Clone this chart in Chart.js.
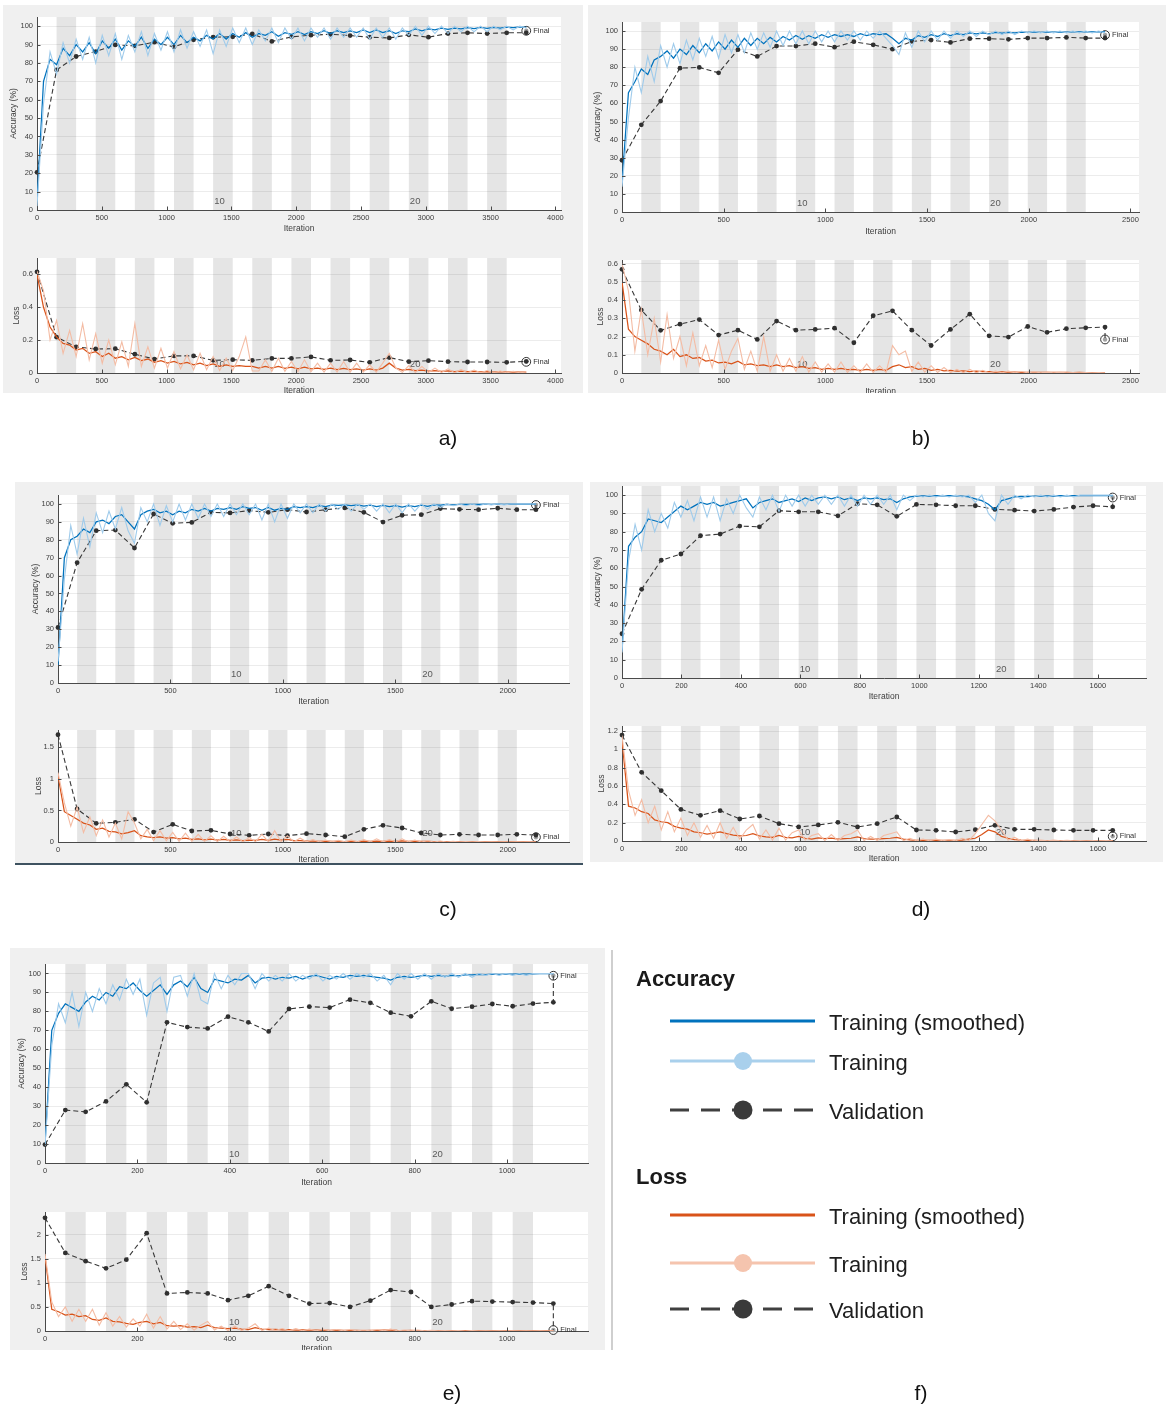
<!DOCTYPE html>
<html>
<head>
<meta charset="utf-8">
<title>Training progress</title>
<script src="https://cdn.jsdelivr.net/npm/chart.js@4.4.1/dist/chart.umd.min.js"></script>
<style>
  html, body { margin: 0; padding: 0; background: #fff; }
  body { width: 1168px; height: 1411px; position: relative; overflow: hidden;
         font-family: "Liberation Sans", Arial, sans-serif; }
  .panel { position: absolute; background: #f0f0f0; overflow: hidden; }
  .panel canvas { position: absolute; }
  #overlay { position: absolute; left: 0; top: 0; pointer-events: none; }
</style>
</head>
<body>
<svg id="overlay" width="1168" height="1411"></svg>
<script>
// ---------------------------------------------------------------------------
// Run data: 25 epochs per run, training sampled evenly over all iterations,
// validation once per epoch plus the final evaluation.
// ---------------------------------------------------------------------------
const panelIds = ['a', 'b', 'c', 'd', 'e'];
const EPOCHS = 25;
const itersPerEpoch = [151, 95, 85, 66, 44];
const epochMarks = [10, 20];

const iterAxisMax = [4043, 2542, 2272, 1762, 1175];
const iterTicks = [
  [0, 500, 1000, 1500, 2000, 2500, 3000, 3500, 4000],
  [0, 500, 1000, 1500, 2000, 2500],
  [0, 500, 1000, 1500, 2000],
  [0, 200, 400, 600, 800, 1000, 1200, 1400, 1600],
  [0, 200, 400, 600, 800, 1000]
];
const accAxisMax = [105, 105, 105, 105, 105];
const accTicks = [0, 10, 20, 30, 40, 50, 60, 70, 80, 90, 100];
const lossAxisMax = [0.70, 0.62, 1.775, 1.255, 2.47];
const lossTicks = [
  [0, 0.2, 0.4, 0.6],
  [0, 0.1, 0.2, 0.3, 0.4, 0.5, 0.6],
  [0, 0.5, 1, 1.5],
  [0, 0.2, 0.4, 0.6, 0.8, 1, 1.2],
  [0, 0.5, 1, 1.5, 2]
];

const finalAcc = [97.5, 97.8, 99.4, 98.7, 98.8];
const finalLoss = [0.068, 0.184, 0.075, 0.051, 0.02];

// ---- run a ----
const trainAccSmoothA = [
  5, 70, 82, 79, 88, 84, 90, 86, 91, 85,
  92, 88, 93, 87, 92, 89, 94, 88, 93, 90,
  94, 90, 95, 91, 94, 92, 95, 93, 96, 93,
  96, 94, 96.5, 94, 96, 95, 97, 94.5, 96.5, 95.5,
  97, 95.5, 97, 96, 97.5, 96, 97.5, 96.5, 97.5, 96.5,
  98, 96.5, 98, 96.5, 97.5, 96, 97.5, 97, 98.5, 97.5,
  98.5, 98, 99, 98.3, 99, 98.5, 99.2, 98.7, 99.3, 98.8,
  99.4, 99, 99.5, 99.2, 99.6, 99.4];
const trainAccRawA = [
  2, 58, 86, 74, 91, 80, 93, 82, 94, 80,
  95, 84, 96, 82, 95, 86, 97, 84, 96, 87,
  97, 86, 98, 88, 97, 89, 98, 85, 98, 89,
  99, 91, 99, 90, 98, 92, 99, 91, 99, 93,
  99, 92, 99, 94, 99, 93, 99, 94, 99, 94,
  99, 93, 99, 94, 99, 93, 99, 95, 100, 95,
  100, 96, 100, 96, 100, 97, 100, 97, 100, 97,
  100, 98, 100, 98, 100, 99];
const valAccA = [20.5, 76.2, 83.5, 86.2, 89.8, 89.3, 91.3, 88.7, 92.6, 94.0, 94.2, 95.8, 91.7,
  94.2, 95.1, 95.6, 94.9, 94.0, 93.6, 95.3, 94.0, 96.0, 96.4, 96.0, 96.4, 96.4];
const trainLossSmoothA = [
  0.6, 0.4, 0.28, 0.22, 0.18, 0.17, 0.14, 0.15, 0.12, 0.13,
  0.1, 0.12, 0.09, 0.1, 0.08, 0.095, 0.075, 0.085, 0.065, 0.075,
  0.06, 0.07, 0.055, 0.065, 0.05, 0.06, 0.045, 0.055, 0.04, 0.05,
  0.04, 0.045, 0.04, 0.04, 0.03, 0.04, 0.03, 0.04, 0.028, 0.035,
  0.025, 0.035, 0.025, 0.03, 0.022, 0.03, 0.02, 0.028, 0.02, 0.025,
  0.018, 0.025, 0.018, 0.03, 0.06, 0.03, 0.018, 0.022, 0.015, 0.018,
  0.012, 0.015, 0.01, 0.013, 0.009, 0.011, 0.008, 0.01, 0.007, 0.009,
  0.006, 0.008, 0.005, 0.007, 0.005, 0.005];
const trainLossRawA = [
  0.62, 0.5, 0.2, 0.32, 0.12, 0.26, 0.1, 0.3, 0.08, 0.24,
  0.06, 0.2, 0.05, 0.19, 0.04, 0.3, 0.04, 0.16, 0.03, 0.15,
  0.03, 0.13, 0.025, 0.11, 0.02, 0.12, 0.02, 0.1, 0.015, 0.09,
  0.015, 0.1, 0.22, 0.012, 0.012, 0.08, 0.01, 0.09, 0.01, 0.07,
  0.008, 0.08, 0.008, 0.06, 0.006, 0.06, 0.006, 0.07, 0.005, 0.06,
  0.005, 0.05, 0.005, 0.06, 0.12, 0.03, 0.004, 0.045, 0.003, 0.04,
  0.003, 0.03, 0.003, 0.025, 0.002, 0.02, 0.002, 0.018, 0.002, 0.015,
  0.002, 0.012, 0.001, 0.01, 0.001, 0.006];
const valLossA = [0.616, 0.218, 0.159, 0.146, 0.148, 0.114, 0.085, 0.104, 0.104, 0.077, 0.081,
  0.077, 0.089, 0.089, 0.098, 0.077, 0.079, 0.065, 0.094, 0.069, 0.075, 0.069, 0.067, 0.067,
  0.065, 0.071];

// ---- run b ----
const trainAccSmoothB = [
  16, 66, 72, 79, 76, 84, 86, 89, 85, 90,
  87, 92, 88, 93, 89, 94, 90, 95, 91, 96,
  92, 96, 93, 96.5, 94, 97, 95, 97.5, 95.5, 97.5,
  96, 98, 96.5, 98, 97, 98, 97, 98.5, 97.5, 98.5,
  98, 98.5, 96, 93, 96, 95, 97.5, 96.5, 98, 97,
  98.5, 97.5, 98.5, 98, 99, 98.5, 99, 98.5, 99.2, 98.8,
  99.3, 99, 99.4, 99.2, 99.5, 99.3, 99.5, 99.4, 99.6, 99.4,
  99.6, 99.5, 99.7, 99.5, 99.7, 99.6];
const trainAccRawB = [
  14, 52, 80, 66, 86, 72, 92, 80, 93, 82,
  95, 84, 96, 86, 97, 85, 98, 88, 98, 88,
  99, 90, 99, 91, 100, 92, 100, 93, 100, 93,
  100, 94, 100, 94, 100, 95, 100, 95, 100, 96,
  100, 96, 92, 87, 99, 91, 100, 94, 100, 95,
  100, 96, 100, 97, 100, 97, 100, 98, 100, 98,
  100, 98, 100, 99, 100, 99, 100, 99, 100, 99,
  100, 99, 100, 99, 100, 99];
const valAccB = [28.6, 48.2, 61.3, 79.5, 79.9, 76.9, 89.7, 86.0, 91.7, 91.7, 93.0, 91.1, 94.1,
  92.4, 90.0, 94.3, 95.0, 93.7, 95.8, 95.8, 95.4, 96.1, 96.1, 96.5, 96.1, 96.1];
const trainLossSmoothB = [
  0.5, 0.24, 0.2, 0.18, 0.16, 0.13, 0.12, 0.1, 0.13, 0.09,
  0.1, 0.08, 0.085, 0.065, 0.07, 0.055, 0.06, 0.05, 0.065, 0.045,
  0.05, 0.04, 0.045, 0.035, 0.045, 0.035, 0.04, 0.03, 0.035, 0.025,
  0.03, 0.02, 0.025, 0.02, 0.025, 0.018, 0.02, 0.015, 0.02, 0.015,
  0.02, 0.015, 0.035, 0.045, 0.03, 0.035, 0.02, 0.025, 0.015, 0.02,
  0.012, 0.015, 0.01, 0.012, 0.008, 0.01, 0.007, 0.008, 0.005, 0.006,
  0.005, 0.005, 0.004, 0.004, 0.003, 0.004, 0.003, 0.003, 0.003, 0.003,
  0.002, 0.003, 0.002, 0.002, 0.002, 0.002];
const trainLossRawB = [
  0.6, 0.45, 0.12, 0.35, 0.1, 0.3, 0.06, 0.32, 0.08, 0.2,
  0.04, 0.22, 0.04, 0.15, 0.03, 0.18, 0.02, 0.12, 0.19, 0.02,
  0.12, 0.01, 0.2, 0.01, 0.1, 0.01, 0.08, 0.01, 0.09, 0.005,
  0.06, 0.005, 0.05, 0.005, 0.06, 0.003, 0.04, 0.003, 0.05, 0.003,
  0.04, 0.003, 0.15, 0.1, 0.12, 0.01, 0.06, 0.005, 0.04, 0.003,
  0.03, 0.002, 0.02, 0.002, 0.02, 0.001, 0.015, 0.001, 0.01, 0.001,
  0.01, 0.001, 0.008, 0.001, 0.006, 0.001, 0.005, 0.001, 0.004, 0.001,
  0.003, 0.001, 0.003, 0.001, 0.002, 0.001];
const valLossB = [0.569, 0.345, 0.234, 0.268, 0.293, 0.208, 0.235, 0.184, 0.285, 0.235, 0.239,
  0.246, 0.166, 0.314, 0.341, 0.235, 0.151, 0.239, 0.323, 0.204, 0.197, 0.255, 0.223, 0.243,
  0.248, 0.252];

// ---- run c ----
const trainAccSmoothC = [
  10, 70, 80, 82, 86, 84, 90, 91, 89, 93,
  94, 90, 86, 94, 96, 97, 95, 96, 94, 96,
  95, 97, 96, 97.5, 96, 97.5, 97, 98, 97, 98.5,
  97.5, 98, 96.5, 98, 96.5, 97.5, 97, 98.5, 98, 98.5,
  98, 99, 98.5, 99.5, 99.2, 99.5, 99, 99.5, 98.8, 99.3,
  98.5, 99.2, 98.5, 99, 98.2, 99, 98.5, 99.3, 98.6, 99.5,
  99.3, 99.7, 99.5, 99.8, 99.7, 99.8, 99.8, 99.9, 99.8, 99.9,
  99.8, 99.9, 99.9, 99.9, 99.9, 99.9];
const trainAccRawC = [
  12, 58, 88, 72, 92, 76, 95, 84, 96, 86,
  98, 85, 78, 98, 90, 100, 88, 99, 90, 100,
  91, 100, 92, 100, 93, 100, 93, 100, 94, 100,
  94, 100, 91, 100, 90, 100, 92, 100, 95, 100,
  95, 100, 96, 100, 97, 100, 96, 100, 97, 100,
  96, 100, 95, 100, 95, 100, 96, 100, 97, 100,
  98, 100, 99, 100, 99, 100, 99, 100, 99.5, 100,
  99.5, 100, 100, 100, 100, 100];
const valAccC = [31.0, 67.2, 85.1, 85.4, 75.4, 94.4, 89.2, 89.7, 95.3, 95.0, 96.3, 95.3, 96.8,
  95.5, 96.8, 97.8, 95.3, 89.9, 93.7, 94.0, 97.4, 97.0, 96.8, 97.6, 96.8, 96.8];
const trainLossSmoothC = [
  1.05, 0.48, 0.42, 0.36, 0.3, 0.27, 0.2, 0.22, 0.17, 0.16,
  0.13, 0.15, 0.18, 0.1, 0.08, 0.07, 0.08, 0.06, 0.07, 0.05,
  0.06, 0.04, 0.05, 0.035, 0.045, 0.03, 0.04, 0.025, 0.035, 0.02,
  0.03, 0.025, 0.04, 0.025, 0.045, 0.03, 0.04, 0.02, 0.02, 0.015,
  0.015, 0.01, 0.012, 0.008, 0.01, 0.007, 0.01, 0.006, 0.012, 0.008,
  0.015, 0.01, 0.015, 0.01, 0.018, 0.01, 0.012, 0.008, 0.01, 0.005,
  0.006, 0.004, 0.004, 0.003, 0.003, 0.003, 0.003, 0.002, 0.002, 0.002,
  0.002, 0.002, 0.002, 0.002, 0.002, 0.002];
const trainLossRawC = [
  1.1, 0.62, 0.25, 0.55, 0.15, 0.4, 0.1, 0.35, 0.08, 0.3,
  0.05, 0.48, 0.3, 0.05, 0.2, 0.02, 0.18, 0.02, 0.15, 0.01,
  0.14, 0.01, 0.12, 0.01, 0.1, 0.005, 0.09, 0.005, 0.08, 0.004,
  0.07, 0.005, 0.12, 0.005, 0.18, 0.005, 0.1, 0.003, 0.06, 0.003,
  0.04, 0.002, 0.03, 0.002, 0.025, 0.002, 0.03, 0.002, 0.04, 0.002,
  0.05, 0.002, 0.04, 0.002, 0.05, 0.002, 0.03, 0.001, 0.02, 0.001,
  0.015, 0.001, 0.01, 0.001, 0.008, 0.001, 0.006, 0.001, 0.005, 0.001,
  0.004, 0.001, 0.003, 0.001, 0.003, 0.001];
const valLossC = [1.70, 0.523, 0.296, 0.312, 0.359, 0.158, 0.280, 0.174, 0.185, 0.127, 0.106,
  0.127, 0.100, 0.132, 0.111, 0.085, 0.201, 0.264, 0.222, 0.143, 0.111, 0.121, 0.111, 0.111,
  0.121, 0.111];

// ---- run d ----
const trainAccSmoothD = [
  15, 72, 77, 80, 87, 86, 85, 88, 91, 94,
  92, 94, 96, 95, 96, 94, 95, 96, 97, 98,
  93, 96, 97, 98, 96, 97, 98, 96.5, 98.5, 97,
  98.5, 99, 98, 99, 97.5, 98.5, 97, 98.5, 98, 98.5,
  97.5, 98, 96, 98, 99, 99.5, 99.6, 99.5, 99.7, 99.6,
  99.7, 99.6, 99.5, 99, 98, 97, 95, 92, 97, 98,
  99, 99.3, 99.2, 99.5, 99.4, 99.6, 99.5, 99.7, 99.6, 99.7,
  99.7, 99.8, 99.7, 99.8, 99.8, 99.8];
const trainAccRawD = [
  14, 64, 84, 70, 92, 80, 90, 82, 96, 88,
  97, 86, 99, 88, 99, 86, 98, 90, 100, 93,
  88, 99, 92, 100, 91, 100, 94, 100, 94, 100,
  95, 100, 95, 100, 94, 100, 94, 100, 95, 100,
  95, 100, 92, 100, 97, 100, 99, 100, 99, 100,
  99, 100, 99, 100, 96, 100, 90, 86, 100, 95,
  100, 98, 100, 99, 100, 99, 100, 99, 100, 99,
  100, 100, 100, 100, 100, 100];
const valAccD = [24.2, 48.5, 64.4, 67.8, 77.8, 78.7, 83.1, 82.7, 91.5, 90.9, 90.9, 88.7, 95.3,
  94.7, 88.4, 94.9, 94.7, 94.2, 94.2, 92.2, 91.8, 91.3, 92.2, 93.5, 94.2, 93.6];
const trainLossSmoothD = [
  1.1, 0.38, 0.36, 0.32, 0.3, 0.23, 0.21, 0.2, 0.16, 0.14,
  0.13, 0.1, 0.09, 0.075, 0.085, 0.1, 0.08, 0.065, 0.055, 0.06,
  0.08, 0.055, 0.045, 0.04, 0.06, 0.04, 0.035, 0.05, 0.03, 0.02,
  0.035, 0.025, 0.03, 0.02, 0.025, 0.03, 0.045, 0.025, 0.02, 0.02,
  0.025, 0.03, 0.04, 0.02, 0.012, 0.008, 0.008, 0.006, 0.007, 0.006,
  0.006, 0.008, 0.01, 0.02, 0.03, 0.07, 0.12, 0.1, 0.05, 0.03,
  0.015, 0.01, 0.008, 0.006, 0.005, 0.005, 0.004, 0.004, 0.004, 0.003,
  0.003, 0.003, 0.003, 0.003, 0.003, 0.003];
const trainLossRawD = [
  1.15, 0.55, 0.28, 0.45, 0.2, 0.38, 0.12, 0.32, 0.1, 0.25,
  0.06, 0.2, 0.04, 0.17, 0.03, 0.2, 0.03, 0.15, 0.02, 0.12,
  0.18, 0.02, 0.12, 0.01, 0.14, 0.01, 0.09, 0.12, 0.01, 0.06,
  0.08, 0.005, 0.07, 0.005, 0.06, 0.08, 0.12, 0.005, 0.05, 0.005,
  0.06, 0.08, 0.1, 0.003, 0.03, 0.002, 0.02, 0.002, 0.02, 0.002,
  0.015, 0.002, 0.03, 0.005, 0.08, 0.18, 0.28, 0.22, 0.12, 0.01,
  0.04, 0.002, 0.02, 0.001, 0.01, 0.001, 0.01, 0.001, 0.008, 0.001,
  0.006, 0.001, 0.005, 0.001, 0.005, 0.001];
const valLossD = [1.156, 0.749, 0.549, 0.345, 0.280, 0.331, 0.240, 0.273, 0.189, 0.153, 0.175,
  0.204, 0.153, 0.189, 0.262, 0.120, 0.116, 0.098, 0.124, 0.171, 0.127, 0.127, 0.120, 0.116,
  0.116, 0.116];

// ---- run e ----
const trainAccSmoothE = [
  10, 70, 79, 84, 82, 80, 85, 88, 86, 90,
  88, 93, 92, 95, 91, 88, 91, 94, 89, 94,
  96, 93, 98, 92, 90, 97, 96, 95, 97, 96.5,
  99, 95, 97.5, 98, 97, 98, 97.5, 98.5, 97, 98.5,
  99, 98, 97, 98.5, 98, 99, 98.5, 99, 98.5, 98,
  97.5, 96.5, 98, 98.5, 98, 98.5, 99, 98.5, 99, 98.5,
  99, 98.8, 99.2, 99.3, 99.5, 99.4, 99.6, 99.5, 99.7, 99.6,
  99.8, 99.7, 99.8, 99.9, 99.9, 99.9];
const trainAccRawE = [
  9, 62, 84, 74, 90, 72, 90, 80, 92, 84,
  94, 86, 97, 89, 97, 78, 95, 98, 80, 98,
  99, 88, 100, 86, 84, 100, 92, 99, 94, 100,
  100, 92, 100, 96, 99, 96, 100, 96, 99, 97,
  100, 96, 99, 97, 100, 97, 100, 98, 100, 96,
  99, 94, 100, 97, 100, 97, 100, 97, 100, 98,
  100, 98, 100, 98, 100, 99, 100, 99, 100, 99,
  100, 99, 100, 100, 100, 100];
const valAccE = [9.7, 27.9, 27.0, 32.5, 41.5, 32.0, 74.2, 71.7, 71.0, 77.2, 74.2, 69.4, 81.3,
  82.5, 82.0, 86.2, 84.5, 79.3, 77.4, 85.3, 81.4, 82.5, 83.9, 82.7, 84.1, 84.8];
const trainLossSmoothE = [
  1.55, 0.45, 0.4, 0.33, 0.35, 0.3, 0.32, 0.24, 0.22, 0.27,
  0.2, 0.19, 0.16, 0.14, 0.18, 0.2, 0.15, 0.18, 0.11, 0.1,
  0.11, 0.08, 0.09, 0.07, 0.12, 0.07, 0.06, 0.05, 0.06, 0.04,
  0.03, 0.07, 0.04, 0.03, 0.035, 0.025, 0.03, 0.02, 0.025, 0.02,
  0.018, 0.02, 0.015, 0.018, 0.012, 0.015, 0.012, 0.01, 0.012, 0.015,
  0.018, 0.02, 0.012, 0.01, 0.012, 0.008, 0.01, 0.007, 0.008, 0.006,
  0.007, 0.005, 0.006, 0.005, 0.004, 0.004, 0.004, 0.003, 0.003, 0.003,
  0.003, 0.002, 0.002, 0.002, 0.002, 0.002];
const trainLossRawE = [
  1.6, 0.6, 0.3, 0.5, 0.2, 0.45, 0.2, 0.45, 0.12, 0.38,
  0.1, 0.3, 0.08, 0.25, 0.1, 0.35, 0.06, 0.3, 0.04, 0.2,
  0.03, 0.15, 0.02, 0.12, 0.2, 0.02, 0.1, 0.01, 0.1, 0.01,
  0.06, 0.15, 0.01, 0.06, 0.01, 0.05, 0.005, 0.05, 0.005, 0.04,
  0.005, 0.04, 0.003, 0.03, 0.003, 0.03, 0.003, 0.02, 0.003, 0.03,
  0.005, 0.04, 0.003, 0.02, 0.002, 0.02, 0.002, 0.015, 0.002, 0.01,
  0.002, 0.01, 0.001, 0.008, 0.001, 0.006, 0.001, 0.005, 0.001, 0.004,
  0.001, 0.003, 0.001, 0.003, 0.001, 0.002];
const valLossE = [2.35, 1.62, 1.45, 1.30, 1.48, 2.03, 0.78, 0.80, 0.78, 0.64, 0.73, 0.93, 0.73,
  0.57, 0.58, 0.50, 0.63, 0.85, 0.81, 0.50, 0.55, 0.62, 0.61, 0.60, 0.59, 0.57];

const accSmooth = [trainAccSmoothA, trainAccSmoothB, trainAccSmoothC, trainAccSmoothD, trainAccSmoothE];
const accRaw = [trainAccRawA, trainAccRawB, trainAccRawC, trainAccRawD, trainAccRawE];
const accVal = [valAccA, valAccB, valAccC, valAccD, valAccE];
const lossSmooth = [trainLossSmoothA, trainLossSmoothB, trainLossSmoothC, trainLossSmoothD, trainLossSmoothE];
const lossRaw = [trainLossRawA, trainLossRawB, trainLossRawC, trainLossRawD, trainLossRawE];
const lossVal = [valLossA, valLossB, valLossC, valLossD, valLossE];

// ---------------------------------------------------------------------------
// Page layout: panel boxes and plot areas [left, right, top, bottom,
// y-title centre x, x-title centre y], all in page pixels.
// ---------------------------------------------------------------------------
const layout = [
  { box: [3, 5, 583, 393],     acc: [37, 561, 17, 210, 14, 229],     loss: [37, 561, 258, 373, 17, 391] },
  { box: [588, 5, 1166, 393],  acc: [622, 1139, 22, 212, 598, 232],  loss: [622, 1139, 260, 373, 601, 392] },
  { box: [15, 482, 583, 863],  acc: [58, 569, 495, 683, 36, 702],    loss: [58, 569, 730, 842, 39, 860] },
  { box: [590, 482, 1163, 862], acc: [622, 1146, 486, 678, 598, 697], loss: [622, 1146, 726, 841, 602, 859] },
  { box: [10, 948, 605, 1350], acc: [45, 588, 964, 1163, 22, 1183],  loss: [45, 588, 1212, 1331, 25, 1349] }
];

const FONT = '"Liberation Sans", Arial, Helvetica, sans-serif';
const AXIS_GREY = '#4a4a4a';
const TEXT_GREY = '#3c3c3c';
const COLORS = {
  acc:  { smooth: '#0072BD', raw: '#9fcbeb' },
  loss: { smooth: '#D95319', raw: '#f4bca4' },
  val: '#383838'
};

Chart.defaults.font.family = FONT;
Chart.defaults.color = TEXT_GREY;

// Epoch shading, epoch numbers, inward tick marks and the "Final" tag.
const trainingFrame = {
  id: 'trainingFrame',
  beforeDraw(chart, args, o) {
    const { ctx, chartArea: a, scales: { x } } = chart;
    ctx.save();
    ctx.fillStyle = '#ffffff';
    ctx.fillRect(a.left, a.top, a.right - a.left, a.bottom - a.top);
    ctx.fillStyle = '#e5e5e5';
    for (let e = 1; e < o.epochs - 1; e += 2) {
      const x0 = x.getPixelForValue(e * o.ipe);
      const x1 = x.getPixelForValue((e + 1) * o.ipe);
      ctx.fillRect(x0, a.top, x1 - x0, a.bottom - a.top);
    }
    ctx.restore();
  },
  beforeDatasetsDraw(chart, args, o) {
    const { ctx, chartArea: a, scales: { x } } = chart;
    ctx.save();
    ctx.font = '9.5px ' + FONT;
    ctx.fillStyle = '#5a5a5a';
    ctx.textAlign = 'left';
    ctx.textBaseline = 'middle';
    for (const m of o.marks) {
      ctx.fillText(String(m), x.getPixelForValue((m - 1) * o.ipe) + 1, a.bottom - 9);
    }
    ctx.restore();
  },
  afterDatasetsDraw(chart, args, o) {
    const { ctx, scales: { x, y } } = chart;
    ctx.save();
    ctx.font = '7.5px ' + FONT;
    ctx.fillStyle = '#333';
    ctx.textAlign = 'left';
    ctx.textBaseline = 'middle';
    ctx.fillText('Final', x.getPixelForValue(o.finalX) + 7, y.getPixelForValue(o.finalY));
    ctx.restore();
  },
  afterDraw(chart) {
    const { ctx, chartArea: a, scales: { x, y } } = chart;
    ctx.save();
    ctx.strokeStyle = AXIS_GREY;
    ctx.lineWidth = 1;
    ctx.beginPath();
    for (const t of x.ticks) {
      const px = Math.round(x.getPixelForValue(t.value)) + 0.5;
      ctx.moveTo(px, a.bottom); ctx.lineTo(px, a.bottom - 3.5);
    }
    for (const t of y.ticks) {
      const py = Math.round(y.getPixelForValue(t.value)) + 0.5;
      ctx.moveTo(a.left, py); ctx.lineTo(a.left + 3.5, py);
    }
    ctx.stroke();
    ctx.restore();
  }
};
Chart.register(trainingFrame);

function trainingPoints(values, totalIters) {
  const n = values.length - 1;
  return values.map((v, i) => ({ x: i * totalIters / n, y: v }));
}
function validationPoints(values, ipe, finalValue) {
  const pts = values.map((v, i) => ({ x: i * ipe, y: v }));
  pts.push({ x: (values.length - 1) * ipe, y: finalValue });
  return pts;
}
function fmt(v) { return String(Math.round(v * 1000) / 1000); }

function buildChart(panelEl, box, geo, spec) {
  const [L, R, T, B, yTitleX, xTitleY] = geo;
  const padTop = 10, padRight = 22;
  const cl = Math.round(yTitleX - 5), ct = T - padTop;
  const cr = R + padRight, cb = Math.round(xTitleY + 5);
  const yW = L - cl, xH = cb - B;

  const cv = document.createElement('canvas');
  cv.width = cr - cl; cv.height = cb - ct;
  cv.style.left = (cl - box[0]) + 'px';
  cv.style.top = (ct - box[1]) + 'px';
  cv.style.width = cv.width + 'px';
  cv.style.height = cv.height + 'px';
  panelEl.appendChild(cv);

  const total = EPOCHS * spec.ipe;
  const val = validationPoints(spec.val, spec.ipe, spec.final);
  const valRadius = val.map((p, i) => (i === val.length - 1 ? 0 : 2.4));
  const finalPt = [{ x: total, y: spec.final }];

  new Chart(cv.getContext('2d'), {
    type: 'line',
    data: {
      datasets: [
        { label: 'Training', data: trainingPoints(spec.raw, total),
          borderColor: spec.colors.raw, borderWidth: 1.1, pointRadius: 0, tension: 0 },
        { label: 'Training (smoothed)', data: trainingPoints(spec.smooth, total),
          borderColor: spec.colors.smooth, borderWidth: 1.25, pointRadius: 0, tension: 0 },
        { label: 'Validation', data: val, borderColor: COLORS.val, borderWidth: 1.1,
          borderDash: [5, 3], pointRadius: valRadius, pointBackgroundColor: '#303030',
          pointBorderWidth: 0, clip: 6 },
        { label: 'Final', data: finalPt, showLine: false, pointRadius: 4.4,
          pointBackgroundColor: 'rgba(255,255,255,0.55)', pointBorderColor: '#333',
          pointBorderWidth: 1, clip: 8 },
        { label: 'Final point', data: finalPt, showLine: false, pointRadius: 2.2,
          pointBackgroundColor: '#303030', pointBorderWidth: 0, clip: 8 }
      ]
    },
    options: {
      responsive: false,
      animation: false,
      devicePixelRatio: 1,
      events: [],
      layout: { padding: { top: padTop, right: padRight, left: 0, bottom: 0 } },
      plugins: {
        legend: { display: false },
        tooltip: { enabled: false },
        trainingFrame: { epochs: EPOCHS, ipe: spec.ipe, marks: epochMarks,
                         finalX: total, finalY: spec.final }
      },
      scales: {
        x: {
          type: 'linear', min: 0, max: spec.xMax,
          afterBuildTicks(s) { s.ticks = spec.xTicks.map(v => ({ value: v })); },
          ticks: { autoSkip: false, maxRotation: 0, font: { size: 7.5 }, color: TEXT_GREY,
                   padding: 3, callback: v => fmt(v) },
          grid: { display: false, drawTicks: false },
          border: { color: AXIS_GREY, width: 1 },
          title: { display: true, text: 'Iteration', font: { size: 8.5 }, color: TEXT_GREY,
                   padding: 0 },
          afterFit(s) { s.height = xH; }
        },
        y: {
          type: 'linear', min: 0, max: spec.yMax,
          afterBuildTicks(s) { s.ticks = spec.yTicks.map(v => ({ value: v })); },
          ticks: { autoSkip: false, font: { size: 7.5 }, color: TEXT_GREY, padding: 4,
                   callback: v => fmt(v) },
          grid: { color: 'rgba(0,0,0,0.075)', drawTicks: false },
          border: { color: AXIS_GREY, width: 1 },
          title: { display: true, text: spec.yTitle, font: { size: 8.5 }, color: TEXT_GREY,
                   padding: 0 },
          afterFit(s) { s.width = yW; }
        }
      }
    }
  });
}

panelIds.forEach((id, k) => {
  const lay = layout[k];
  const [x0, y0, x1, y1] = lay.box;
  const panel = document.createElement('div');
  panel.className = 'panel';
  panel.id = 'run-' + id;
  panel.style.left = x0 + 'px';
  panel.style.top = y0 + 'px';
  panel.style.width = (x1 - x0) + 'px';
  panel.style.height = (y1 - y0) + 'px';
  document.body.appendChild(panel);

  buildChart(panel, lay.box, lay.acc, {
    ipe: itersPerEpoch[k], raw: accRaw[k], smooth: accSmooth[k], val: accVal[k],
    final: finalAcc[k], colors: COLORS.acc, xMax: iterAxisMax[k], xTicks: iterTicks[k],
    yMax: accAxisMax[k], yTicks: accTicks, yTitle: 'Accuracy (%)'
  });
  buildChart(panel, lay.box, lay.loss, {
    ipe: itersPerEpoch[k], raw: lossRaw[k], smooth: lossSmooth[k], val: lossVal[k],
    final: finalLoss[k], colors: COLORS.loss, xMax: iterAxisMax[k], xTicks: iterTicks[k],
    yMax: lossAxisMax[k], yTicks: lossTicks[k], yTitle: 'Loss'
  });
});

// thin window edge under run c
(function () {
  const edge = document.createElement('div');
  edge.style.cssText = 'position:absolute;left:15px;top:863px;width:568px;height:2px;background:#3e5260;';
  document.body.appendChild(edge);
})();

// ---------------------------------------------------------------------------
// Sub-figure captions and the shared key (panel f).
// ---------------------------------------------------------------------------
const captions = [['a)', 448, 437], ['b)', 921, 437], ['c)', 448, 908],
                  ['d)', 921, 908], ['e)', 452, 1392], ['f)', 921, 1392]];
const keyGroups = [
  { title: 'Accuracy', y: 978, rows: [
      { text: 'Training (smoothed)', kind: 'line', color: COLORS.acc.smooth, y: 1021 },
      { text: 'Training', kind: 'dot', color: '#a9d0ec', y: 1061 },
      { text: 'Validation', kind: 'dash', color: '#404040', y: 1110 } ] },
  { title: 'Loss', y: 1176, rows: [
      { text: 'Training (smoothed)', kind: 'line', color: COLORS.loss.smooth, y: 1215 },
      { text: 'Training', kind: 'dot', color: '#f5c4ae', y: 1263 },
      { text: 'Validation', kind: 'dash', color: '#404040', y: 1309 } ] }
];

(function drawOverlay() {
  const NS = 'http://www.w3.org/2000/svg';
  const svg = document.getElementById('overlay');
  document.body.appendChild(svg);
  const el = (tag, attrs, text) => {
    const n = document.createElementNS(NS, tag);
    for (const k in attrs) n.setAttribute(k, attrs[k]);
    if (text) n.textContent = text;
    svg.appendChild(n);
    return n;
  };
  for (const [t, x, y] of captions) {
    el('text', { x, y, 'text-anchor': 'middle', 'dominant-baseline': 'central',
                 'font-family': FONT, 'font-size': 21, fill: '#111' }, t);
  }
  el('line', { x1: 612, y1: 950, x2: 612, y2: 1350, stroke: '#cfcfcf', 'stroke-width': 2 });
  const lx0 = 670, lx1 = 815, mid = 743, tx = 829;
  for (const g of keyGroups) {
    el('text', { x: 636, y: g.y, 'dominant-baseline': 'central', 'font-family': FONT,
                 'font-size': 22, 'font-weight': 'bold', fill: '#1a1a1a' }, g.title);
    for (const r of g.rows) {
      if (r.kind === 'line') {
        el('line', { x1: lx0, y1: r.y, x2: lx1, y2: r.y, stroke: r.color, 'stroke-width': 3 });
      } else if (r.kind === 'dot') {
        el('line', { x1: lx0, y1: r.y, x2: lx1, y2: r.y, stroke: r.color, 'stroke-width': 3 });
        el('circle', { cx: mid, cy: r.y, r: 9, fill: r.color });
      } else {
        el('line', { x1: lx0, y1: r.y, x2: lx1 - 2, y2: r.y, stroke: r.color, 'stroke-width': 3,
                     'stroke-dasharray': '19 12' });
        el('circle', { cx: mid, cy: r.y, r: 9.5, fill: '#3a3a3a' });
      }
      el('text', { x: tx, y: r.y + 1, 'dominant-baseline': 'central', 'font-family': FONT,
                   'font-size': 22, fill: '#1e1e1e' }, r.text);
    }
  }
})();
</script>
</body>
</html>
